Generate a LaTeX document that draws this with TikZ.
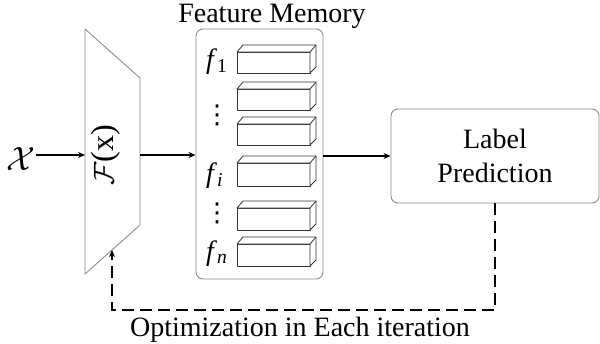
\documentclass[tikz,border=0pt]{standalone}
\usepackage{fontspec}
\setmainfont{Liberation Serif}
\newfontfamily\symfont{DejaVu Sans}
\usetikzlibrary{arrows.meta}
\definecolor{edgegray}{RGB}{140,140,140}
\tikzset{
  txt/.style={font=\rmfamily\fontsize{28}{34}\selectfont, inner sep=0pt},
  arr/.style={line width=1.6pt, -{Stealth[length=7pt,width=6pt]}},
  dsh/.style={line width=2pt, dash pattern=on 12pt off 6pt, -{Stealth[length=7pt,width=6pt]}},
  grayline/.style={draw=edgegray, line width=0.9pt},
  cub/.style={draw=black!80, line width=0.8pt, fill=white, line join=round},
  rbox/.style={grayline, rounded corners=7pt, inner sep=0pt},
}
\newcommand\mycuboid[2]{%
  \draw[cub] (237,#1) rectangle (310,#2);
  \draw[cub] (237,#1) -- (243,#1-7) -- (316,#1-7) -- (316,#2-6) -- (310,#2) -- (310,#1) -- cycle;
  \draw[cub] (310,#1) -- (316,#1-7);
}
\begin{document}
\begin{tikzpicture}[x=1pt,y=-1pt]
\useasboundingbox (0,0) rectangle (600,343);
% trapezoid encoder
\coordinate (tl) at (85,29);
\coordinate (tr) at (140,78);
\coordinate (br) at (140,225);
\coordinate (bl) at (85,274);
\coordinate (tin) at (85,155);
\coordinate (tout) at (140,155);
\coordinate (fb) at (112,250);
\draw[grayline, line join=round] (tl) -- (tr) -- (br) -- (bl) -- cycle;
\node[txt, rotate=90] (F) at (106,155) {\scalebox{1.15}{$\mathcal{F}$(x)}};
% input
\node[txt, anchor=east] (X) at (36,159) {\scalebox{1.35}{$\mathcal{X}$}};
% feature memory
\node[rbox, minimum width=127pt, minimum height=250pt] (mem) at (259.5,154) {};
\node[txt, anchor=base] (memt) at (272,22.5) {Feature Memory};
\mycuboid{52}{73}
\mycuboid{89}{110}
\mycuboid{124}{145}
\mycuboid{163}{186}
\mycuboid{208}{230}
\mycuboid{244}{266}
\node[txt, anchor=base west] (f1) at (206,68) {\textit{f}\textsubscript{1}};
\node[txt, anchor=base west] (fi) at (206,182) {\textit{f}\textsubscript{\textit{i}}};
\node[txt, anchor=base west] (fn) at (206,260) {\textit{f}\textsubscript{\textit{n}}};
\node[font=\symfont\fontsize{26}{26}\selectfont, inner sep=0pt] (d1) at (217,115) {⋮};
\node[font=\symfont\fontsize{26}{26}\selectfont, inner sep=0pt] (d2) at (217,213) {⋮};
% label prediction
\node[rbox, minimum width=208pt, minimum height=94pt, align=center, txt] (lbl) at (495,156) {Label\\Prediction};
% connectors
\draw[arr] (X.east |- tin) -- (tin);
\draw[arr] (tout) -- (tout -| mem.west);
\draw[arr] (mem.east |- lbl.west) -- (lbl.west);
\coordinate (corner) at (112,310);
\draw[dsh] (lbl.south) |- (corner) -- (fb);
\node[txt, anchor=base] (opt) at (300,336.5) {Optimization in Each iteration};
\end{tikzpicture}
\end{document}
